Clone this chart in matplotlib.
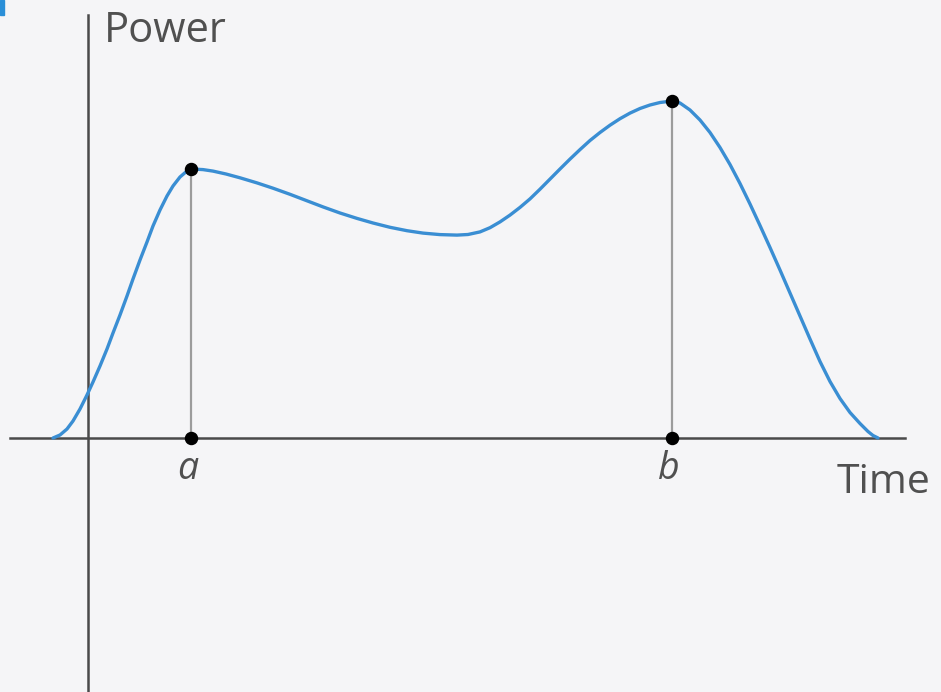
import matplotlib
matplotlib.use("Agg")
import matplotlib.pyplot as plt
from matplotlib.patches import Rectangle

# Power curve (arbitrary units, origin where the axes cross)
time = [-0.35, -0.28, -0.21, -0.15, -0.08, -0.01, 0.05, 0.12, 0.19, 0.25,
        0.32, 0.39, 0.45, 0.52, 0.59, 0.65, 0.72, 0.79, 0.85, 0.92, 0.99,
        1.04, 1.15, 1.25, 1.38, 1.52, 1.69, 1.85, 2.02, 2.19, 2.35, 2.52,
        2.69, 2.85, 3.02, 3.19, 3.35, 3.52, 3.69, 3.80, 3.92, 4.02, 4.12,
        4.22, 4.32, 4.42, 4.52, 4.62, 4.72, 4.82, 4.92, 5.02, 5.12, 5.22,
        5.32, 5.42, 5.52, 5.62, 5.72, 5.84, 5.92, 6.02, 6.12, 6.22, 6.32,
        6.42, 6.52, 6.62, 6.72, 6.82, 6.92, 7.02, 7.12, 7.22, 7.32, 7.42,
        7.52, 7.62, 7.72, 7.80, 7.85, 7.90]
power = [0.00, 0.03, 0.09, 0.17, 0.29, 0.43, 0.56, 0.72, 0.89, 1.05,
         1.23, 1.42, 1.59, 1.78, 1.96, 2.12, 2.28, 2.42, 2.52, 2.61, 2.67,
         2.69, 2.684, 2.669, 2.640, 2.602, 2.551, 2.498, 2.437, 2.372, 2.311, 2.250,
         2.196, 2.150, 2.107, 2.073, 2.049, 2.034, 2.029, 2.035, 2.061, 2.103, 2.161,
         2.229, 2.306, 2.391, 2.488, 2.589, 2.690, 2.789, 2.884, 2.975, 3.055, 3.128,
         3.193, 3.249, 3.295, 3.330, 3.355, 3.37, 3.35, 3.28, 3.18, 3.055, 2.905,
         2.735, 2.545, 2.34, 2.125, 1.905, 1.68, 1.45, 1.22, 0.99, 0.765, 0.565,
         0.395, 0.255, 0.145, 0.065, 0.025, 0.00]

# marked points
mark_times = [1.03, 5.84]
mark_power = [2.69, 3.37]
mark_labels = ["a", "b"]

bg = "#f5f5f7"
axis_col = "#4a4a4a"
text_col = "#505050"
font = ["Open Sans", "DejaVu Sans"]

fig = plt.figure(figsize=(9.41, 6.92), dpi=100, facecolor=bg)
ax = fig.add_axes([0, 0, 1, 1], facecolor=bg)
ax.set_xlim(-0.88, 8.53)
ax.set_ylim(-2.54, 4.38)

# axes through the origin
for side in ("top", "right"):
    ax.spines[side].set_visible(False)
ax.spines["left"].set_position(("data", 0))
ax.spines["bottom"].set_position(("data", 0))
ax.spines["left"].set_bounds(-2.6, 4.23)
ax.spines["bottom"].set_bounds(-0.78, 8.17)
for side in ("left", "bottom"):
    ax.spines[side].set_color(axis_col)
    ax.spines[side].set_linewidth(1.8)
    ax.spines[side].set_zorder(2)
ax.set_xticks([])
ax.set_yticks([])

# drop lines from the two marked points
for t, p in zip(mark_times, mark_power):
    ax.plot([t, t], [0, p], color="#9c9c9c", lw=1.6, zorder=1)

ax.plot(time, power, color="#3a8ed3", lw=2.4, solid_joinstyle="round",
        solid_capstyle="round", zorder=3)

ax.scatter(mark_times, mark_power, s=75, color="black", zorder=4)
ax.scatter(mark_times, [0, 0], s=75, color="black", zorder=4)

for t, lab in zip(mark_times, mark_labels):
    ax.text(t - 0.03, -0.41, lab, ha="center", va="baseline", fontsize=27,
            style="italic", color=text_col, family=font)

ax.text(0.16, 3.96, "Power", ha="left", va="baseline", fontsize=30,
        color=text_col, family=font)
ax.text(7.49, -0.55, "Time", ha="left", va="baseline", fontsize=29.5,
        color=text_col, family=font)

# small blue tab cropped at the top-left corner
fig.patches.append(Rectangle((0, 0.978), 0.004, 0.022, transform=fig.transFigure,
                             color="#2a8fd8", zorder=5))

fig.savefig("out.png", dpi=100, facecolor=bg)
